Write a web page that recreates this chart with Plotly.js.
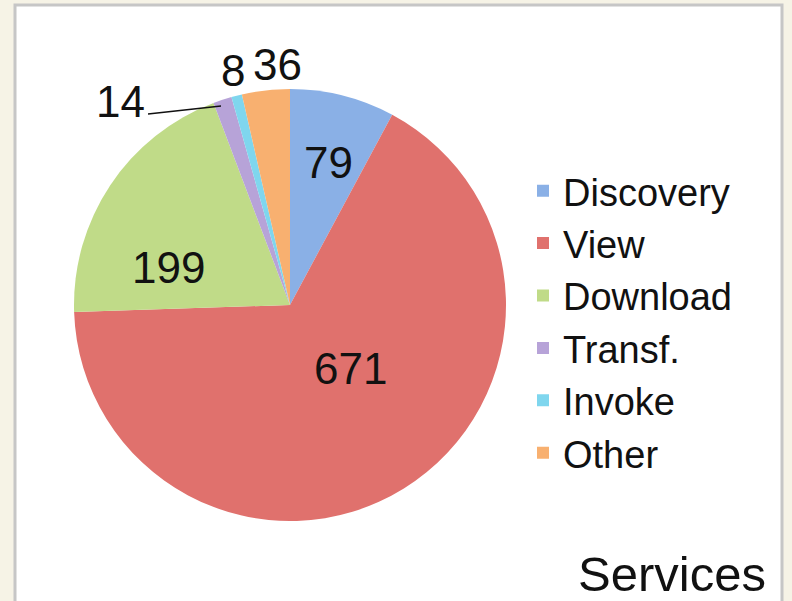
<!DOCTYPE html>
<html>
<head>
<meta charset="utf-8">
<script src="https://cdn.plot.ly/plotly-3.0.1.min.js"></script>
<style>html,body{margin:0;padding:0;background:#fff;}#chart{width:792px;height:601px;}</style>
</head>
<body>
<div id="chart"></div>
<script>
// ---- data ----
var categories = ["Discovery", "View", "Download", "Transf.", "Invoke", "Other"];
var values = [79, 671, 199, 14, 8, 36];
var sliceColors = ["#8ab0e6", "#e0716d", "#c0db88", "#b7a3d8", "#7fd6ee", "#f8b070"];
var chartTitle = "Services";

// ---- layout helpers (pixel -> paper) ----
var W = 792, H = 601;
function px(x) { return x / W; }
function py(y) { return (H - y) / H; }

// label placement (layout, pixels) per slice
var labelPos = [[328, 162], [350, 368], [168, 267], [120, 102], [233, 70], [277, 64]];

var annotations = categories.map(function (c, i) {
  return {
    xref: "paper", yref: "paper",
    x: px(labelPos[i][0]), y: py(labelPos[i][1]),
    text: String(values[i]), showarrow: false,
    xanchor: "center", yanchor: "middle",
    font: {family: "Liberation Sans, Arial, sans-serif", size: 44, color: "#111"}
  };
});
annotations.push({
  xref: "paper", yref: "paper", x: px(768), y: py(603),
  xanchor: "right", yanchor: "bottom", showarrow: false,
  text: chartTitle,
  font: {family: "Liberation Sans, Arial, sans-serif", size: 49, color: "#111"}
});

var trace = {
  type: "pie",
  labels: categories,
  values: values,
  sort: false,
  direction: "clockwise",
  rotation: 0,
  textinfo: "none",
  hoverinfo: "label+value",
  marker: {colors: sliceColors, line: {width: 0}},
  domain: {x: [px(74), px(506)], y: [py(522), py(88)]}
};

var layout = {
  width: W, height: H,
  margin: {l: 0, r: 0, t: 0, b: 0},
  paper_bgcolor: "#f6f3e6",
  showlegend: true,
  legend: {
    x: px(523), y: py(322), xanchor: "left", yanchor: "middle",
    bgcolor: "rgba(0,0,0,0)",
    font: {family: "Liberation Sans, Arial, sans-serif", size: 38, color: "#111"}
  },
  shapes: [
    {type: "rect", xref: "paper", yref: "paper", x0: px(15), x1: px(782), y0: py(610), y1: py(5),
     fillcolor: "#ffffff", line: {color: "#c6c6c6", width: 3}, layer: "below"},
    {type: "line", xref: "paper", yref: "paper", x0: px(148), y0: py(114), x1: px(221), y1: py(106),
     line: {color: "#111", width: 1.5}}
  ],
  annotations: annotations
};

Plotly.newPlot("chart", [trace], layout, {displayModeBar: false, staticPlot: true});
</script>
</body>
</html>
